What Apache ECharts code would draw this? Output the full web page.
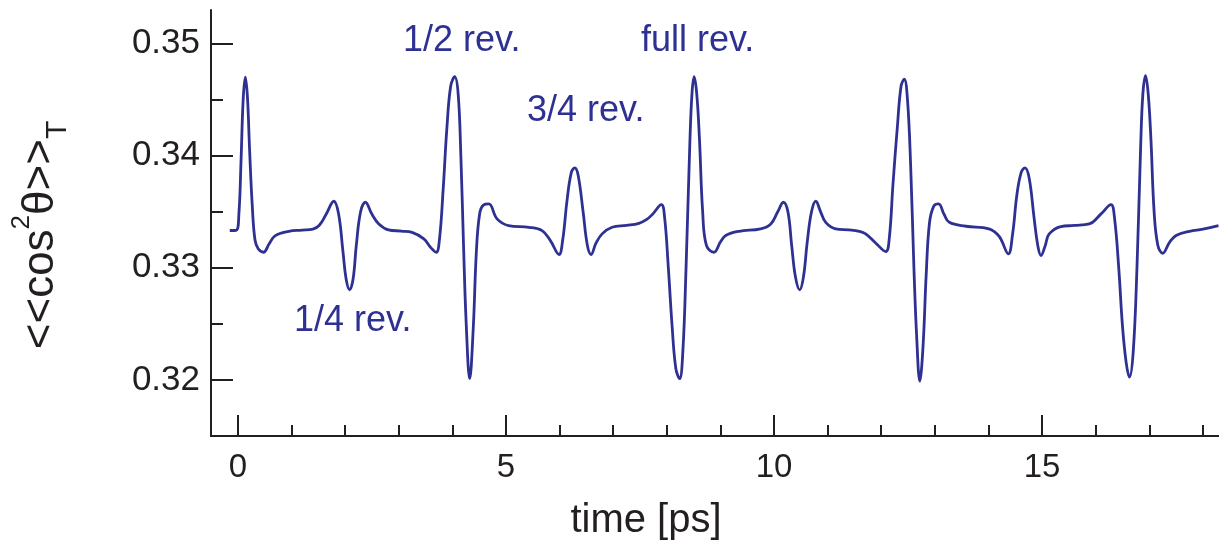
<!DOCTYPE html>
<html>
<head>
<meta charset="utf-8">
<script src="https://cdn.jsdelivr.net/npm/echarts@6/dist/echarts.min.js"></script>
<style>
  html, body { margin: 0; padding: 0; background: #fff; }
  #chart { width: 1219px; height: 548px; }
</style>
</head>
<body>
<div id="chart"></div>
<script>
// time axis [ps] and alignment <<cos^2 theta>>_T
const timePs = [
  -0.15, -0.03, 0.02, 0.06, 0.10, 0.14, 0.18, 0.22, 0.27, 0.32, 0.38, 0.48, 0.58, 0.70, 0.95,
  1.20, 1.40, 1.52, 1.65, 1.79, 1.88, 1.96, 2.02, 2.085, 2.15, 2.21, 2.29, 2.38, 2.50, 2.63, 2.81,
  3.05, 3.25, 3.47, 3.60, 3.70, 3.76, 3.83, 3.90, 3.97, 4.045, 4.11, 4.16, 4.21, 4.26, 4.325, 4.39,
  4.45, 4.51, 4.58, 4.68, 4.835, 5.05, 5.43, 5.675, 5.83, 5.99, 6.06, 6.14, 6.22, 6.285, 6.35, 6.44,
  6.52, 6.59, 6.68, 6.795, 6.98, 7.25, 7.48, 7.62, 7.73, 7.90, 7.96, 8.03, 8.10, 8.17, 8.24, 8.30,
  8.36, 8.43, 8.47, 8.51, 8.56, 8.61, 8.67, 8.74, 8.88, 9.00, 9.10, 9.35, 9.75, 9.94, 10.07, 10.175,
  10.26, 10.33, 10.40, 10.48, 10.55, 10.62, 10.70, 10.78, 10.87, 10.965, 11.15, 11.40, 11.59, 11.71,
  11.90, 12.085, 12.15, 12.22, 12.30, 12.37, 12.43, 12.49, 12.55, 12.61, 12.66, 12.72, 12.78, 12.84,
  12.90, 12.98, 13.07, 13.17, 13.27, 13.58, 14.01, 14.20, 14.37, 14.45, 14.53, 14.61, 14.68, 14.76,
  14.85, 14.92, 14.98, 15.06, 15.13, 15.35, 15.60, 15.88, 16.10, 16.285, 16.35, 16.43, 16.50, 16.57,
  16.63, 16.70, 16.77, 16.84, 16.88, 16.93, 16.98, 17.03, 17.09, 17.16, 17.25, 17.38, 17.50, 17.75,
  18.00, 18.29
];
const cos2Theta = [
  0.33333, 0.33335, 0.33480, 0.33950, 0.34500, 0.34700, 0.34520, 0.34050, 0.33550, 0.33250, 0.33170, 0.33139, 0.33210, 0.33288, 0.33326,
  0.33336, 0.33345, 0.33380, 0.33480, 0.33594, 0.33480, 0.33150, 0.32900, 0.32804, 0.32900, 0.33200, 0.33500, 0.33585, 0.33480, 0.33392, 0.33339,
  0.33328, 0.33317, 0.33258, 0.33180, 0.33139, 0.33250, 0.33700, 0.34250, 0.34620, 0.34705, 0.34550, 0.34000, 0.33200, 0.32500, 0.32011, 0.32450,
  0.33150, 0.33480, 0.33560, 0.33570, 0.33437, 0.33377, 0.33362, 0.33332, 0.33243, 0.33119, 0.33250, 0.33600, 0.33850, 0.33891, 0.33820, 0.33500,
  0.33200, 0.33119, 0.33220, 0.33303, 0.33362, 0.33378, 0.33397, 0.33430, 0.33475, 0.33564, 0.33450, 0.33000, 0.32480, 0.32100, 0.32011, 0.32250,
  0.33000, 0.34100, 0.34550, 0.34705, 0.34550, 0.34150, 0.33500, 0.33200, 0.33139, 0.33230, 0.33288, 0.33326, 0.33348, 0.33392, 0.33500, 0.33585,
  0.33500, 0.33200, 0.32920, 0.32804, 0.32920, 0.33230, 0.33500, 0.33594, 0.33500, 0.33406, 0.33348, 0.33339, 0.33326, 0.33303,
  0.33220, 0.33145, 0.33260, 0.33750, 0.34250, 0.34620, 0.34684, 0.34500, 0.33900, 0.33000, 0.32400, 0.31990, 0.32300, 0.32950,
  0.33400, 0.33550, 0.33570, 0.33480, 0.33406, 0.33371, 0.33348, 0.33280, 0.33125, 0.33300, 0.33650, 0.33850, 0.33891, 0.33800,
  0.33450, 0.33200, 0.33110, 0.33200, 0.33300, 0.33368, 0.33378, 0.33392, 0.33481, 0.33564, 0.33450, 0.33000, 0.32480, 0.32150,
  0.32025, 0.32250, 0.33000, 0.34100, 0.34550, 0.34714, 0.34550, 0.34150, 0.33500, 0.33200, 0.33130, 0.33230, 0.33288, 0.33326,
  0.33345, 0.33377
];

const xMajorTicks = [0, 5, 10, 15];
const xMinorTicks = [1, 2, 3, 4, 6, 7, 8, 9, 11, 12, 13, 14, 16, 17, 18];
const yMajorTicks = [0.32, 0.33, 0.34, 0.35];
const yMinorTicks = [0.325, 0.335, 0.345];

const revLabels = ['1/2 rev.', 'full rev.', '3/4 rev.', '1/4 rev.'];

const FONT = '"Liberation Sans", Arial, Helvetica, sans-serif';
const INK = '#231f20';
const BLUE = '#2e3192';

const chart = echarts.init(document.getElementById('chart'));

const tickStyle = { color: INK, width: 2 };

chart.setOption({
  backgroundColor: '#fff',
  animation: false,
  grid: { left: 211, right: 0, top: 10, bottom: 112 },
  xAxis: [
    {
      type: 'value', position: 'bottom', min: -0.5, max: 18.3,
      splitLine: { show: false },
      axisLine: { show: true, onZero: false, lineStyle: tickStyle },
      axisTick: { show: true, inside: true, length: 21, customValues: xMajorTicks, lineStyle: tickStyle },
      axisLabel: { customValues: xMajorTicks, color: INK, fontFamily: FONT, fontSize: 33, margin: 15 }
    },
    {
      type: 'value', position: 'bottom', min: -0.5, max: 18.3,
      splitLine: { show: false },
      axisLine: { show: false, onZero: false },
      axisTick: { show: true, inside: true, length: 11, customValues: xMinorTicks, lineStyle: tickStyle },
      axisLabel: { show: false }
    }
  ],
  yAxis: [
    {
      type: 'value', position: 'left', min: 0.315, max: 0.353,
      splitLine: { show: false },
      axisLine: { show: true, onZero: false, lineStyle: tickStyle },
      axisTick: { show: true, inside: true, length: 22, customValues: yMajorTicks, lineStyle: tickStyle },
      axisLabel: {
        customValues: yMajorTicks, color: INK, fontFamily: FONT, fontSize: 35, margin: 11,
        formatter: v => v.toFixed(2)
      }
    },
    {
      type: 'value', position: 'left', min: 0.315, max: 0.353,
      splitLine: { show: false },
      axisLine: { show: false, onZero: false },
      axisTick: { show: true, inside: true, length: 12, customValues: yMinorTicks, lineStyle: tickStyle },
      axisLabel: { show: false }
    }
  ],
  series: [{
    type: 'line',
    xAxisIndex: 0,
    yAxisIndex: 0,
    data: timePs.map((t, i) => [t, cos2Theta[i]]),
    smooth: 0.4,
    showSymbol: false,
    lineStyle: { color: BLUE, width: 2.8 }
  }],
  graphic: [
    {
      type: 'text', rotation: Math.PI / 2, x: 41, y: 235,
      style: {
        text: '<<cos{sup|2}θ>>{sub|T}',
        align: 'center', verticalAlign: 'middle',
        font: '44px ' + FONT, fill: INK, lineHeight: 64,
        rich: {
          sup: { fontSize: 26, fontFamily: FONT, fill: INK, verticalAlign: 'top', lineHeight: 26 },
          sub: { fontSize: 30, fontFamily: FONT, fill: INK, verticalAlign: 'bottom', lineHeight: 30 }
        }
      }
    },
    { type: 'text', x: 646, y: 521, style: { text: 'time [ps]', font: '40px ' + FONT, fill: INK, align: 'center', verticalAlign: 'middle' } },
    { type: 'text', x: 403, y: 41, style: { text: revLabels[0], font: '36px ' + FONT, fill: BLUE, verticalAlign: 'middle' } },
    { type: 'text', x: 641, y: 41, style: { text: revLabels[1], font: '36px ' + FONT, fill: BLUE, verticalAlign: 'middle' } },
    { type: 'text', x: 527, y: 111, style: { text: revLabels[2], font: '36px ' + FONT, fill: BLUE, verticalAlign: 'middle' } },
    { type: 'text', x: 294, y: 321, style: { text: revLabels[3], font: '36px ' + FONT, fill: BLUE, verticalAlign: 'middle' } }
  ]
});
</script>
</body>
</html>
